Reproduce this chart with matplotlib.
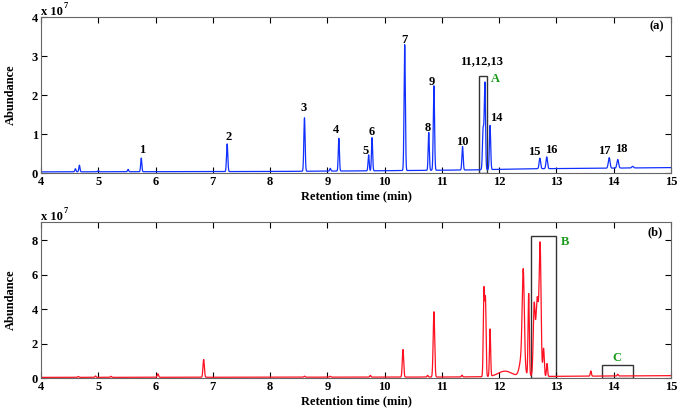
import numpy as np
import matplotlib
matplotlib.use("Agg")
import matplotlib.pyplot as plt
from matplotlib.patches import Rectangle

plt.rcParams['font.family'] = ['Liberation Serif', 'DejaVu Serif']
plt.rcParams['font.weight'] = 'bold'

# ---------------- data (abundance in units of 1e7) ----------------
# (a) chromatogram peak table
a_rt = [4.60, 4.67, 5.00, 5.52, 5.75, 7.25, 8.60, 9.05, 9.20, 9.72, 9.78, 10.35,
        10.77, 10.86, 11.36, 11.72, 11.75, 11.84, 12.71, 12.83, 13.92, 14.07, 14.33]
a_height = [0.08, 0.17, 0.03, 0.06, 0.35, 0.71, 1.37, 0.07, 0.84, 0.41, 0.85, 3.23,
            0.97, 2.17, 0.60, 1.05, 2.20, 1.13, 0.27, 0.30, 0.27, 0.22, 0.04]
a_width = [0.010, 0.010, 0.010, 0.010, 0.010, 0.011, 0.011, 0.010, 0.010, 0.010, 0.010, 0.011,
           0.010, 0.011, 0.011, 0.012, 0.011, 0.011, 0.013, 0.013, 0.015, 0.015, 0.015]
a_base_t = [4.0, 8.0, 10.0, 11.5, 12.5, 13.5, 15.0]
a_base_y = [0.03, 0.04, 0.06, 0.08, 0.11, 0.12, 0.14]

# (b) chromatogram peak table
b_rt = [4.65, 4.95, 5.22, 6.04, 6.84, 8.60, 9.05, 9.75, 10.32, 10.75, 10.86, 11.35,
        11.733, 11.76, 11.84, 12.10,
        12.40, 12.42, 12.515,
        12.66, 12.61, 12.665, 12.715, 12.775, 12.835,
        13.60, 14.07]
b_height = [0.05, 0.08, 0.06, 0.20, 1.03, 0.06, 0.05, 0.10, 1.60, 0.10, 3.80, 0.10,
            5.00, 4.40, 2.75, 0.32,
            1.20, 5.20, 4.80,
            2.00, 3.30, 2.60, 6.90, 1.60, 0.75,
            0.30, 0.10]
b_width = [0.010, 0.010, 0.010, 0.012, 0.012, 0.010, 0.010, 0.010, 0.012, 0.010, 0.013, 0.010,
           0.011, 0.011, 0.010, 0.120,
           0.040, 0.018, 0.011,
           0.040, 0.015, 0.020, 0.016, 0.012, 0.010,
           0.010, 0.010]
b_base_t = [4.0, 8.0, 11.0, 13.0, 15.0]
b_base_y = [0.04, 0.05, 0.06, 0.10, 0.14]

# annotations
a_labels = ['1', '2', '3', '4', '5', '6', '7', '8', '9', '10', '11,12,13', '14',
            '15', '16', '17', '18']
a_label_x = [5.77, 7.27, 8.59, 9.15, 9.67, 9.78, 10.35, 10.75, 10.83, 11.35, 11.69, 11.95,
             12.61, 12.91, 13.84, 14.13]
a_label_y = [0.59, 0.92, 1.67, 1.10, 0.56, 1.06, 3.41, 1.16, 2.34, 0.80, 2.87, 1.40,
             0.53, 0.59, 0.56, 0.62]
box_a = (11.64, 0.0, 11.79, 2.49)
box_b = (12.55, 0.03, 13.00, 8.27)
box_c = (13.79, 0.03, 14.34, 0.75)

xticks = [4, 5, 6, 7, 8, 9, 10, 11, 12, 13, 14, 15]
a_yticks = [0, 1, 2, 3, 4]
b_yticks = [0, 2, 4, 6, 8]


def chromatogram(t, rts, hs, ws, bt, by):
    y = np.interp(t, bt, by)
    for r, h, w in zip(rts, hs, ws):
        y = y + h * np.exp(-0.5 * ((t - r) / w) ** 2)
    return y


t = np.linspace(4, 15, 8000)
ya = chromatogram(t, a_rt, a_height, a_width, a_base_t, a_base_y)
yb = chromatogram(t, b_rt, b_height, b_width, b_base_t, b_base_y)

fig = plt.figure(figsize=(6.78, 4.15), dpi=100)
ax1 = fig.add_axes([0.0605, 0.583, 0.9292, 0.376])
ax2 = fig.add_axes([0.0605, 0.089, 0.9292, 0.376])

green = '#1a9a1a'
fs = 9

for ax, y, col, yt, ylim, tag, tagpos in [
        (ax1, ya, '#1030ff', a_yticks, 4.0, '(a)', (14.75, 3.75)),
        (ax2, yb, '#ff1020', b_yticks, 9.07, '(b)', (14.72, 8.5))]:
    ax.plot(t, y, color=col, lw=0.9)
    ax.set_xlim(4, 15)
    ax.set_ylim(0, ylim)
    ax.set_xticks(xticks)
    ax.set_yticks(yt)
    ax.tick_params(direction='in', top=True, right=True, labelsize=fs, length=4, width=0.8,
                   pad=2)
    for lab in ax.get_xticklabels() + ax.get_yticklabels():
        lab.set_fontweight('bold')
    for sp in ax.spines.values():
        sp.set_color('#666666')
        sp.set_linewidth(0.8)
    ax.set_xlabel('Retention time (min)', fontsize=fs, fontweight='bold', labelpad=2)
    ax.set_ylabel('Abundance', fontsize=fs, fontweight='bold', labelpad=11)
    ax.text(0.0, 1.014, 'x 10', transform=ax.transAxes, fontsize=fs, fontweight='bold',
            ha='left', va='baseline')
    ax.text(0.036, 1.058, '7', transform=ax.transAxes, fontsize=6, fontweight='bold',
            ha='left', va='baseline')
    ax.text(tagpos[0], tagpos[1], tag, fontsize=fs, fontweight='bold', ha='center',
            va='center')

for s, x, yv in zip(a_labels, a_label_x, a_label_y):
    ax1.text(x, yv, s, fontsize=fs, fontweight='bold', ha='center', va='center')

for (x0, y0, x1, y1) in [box_a]:
    ax1.add_patch(Rectangle((x0, y0), x1 - x0, y1 - y0, fill=False, ec='#333333', lw=1.0))
ax1.text(11.85, 2.4, 'A', color=green, fontsize=fs, fontweight='bold', ha='left', va='center')

for (x0, y0, x1, y1) in [box_b, box_c]:
    ax2.add_patch(Rectangle((x0, y0), x1 - x0, y1 - y0, fill=False, ec='#333333', lw=1.0))
ax2.text(13.15, 7.9, 'B', color=green, fontsize=fs, fontweight='bold', ha='center', va='center')
ax2.text(14.05, 1.14, 'C', color=green, fontsize=fs, fontweight='bold', ha='center', va='center')

fig.savefig('out.png', dpi=100)
